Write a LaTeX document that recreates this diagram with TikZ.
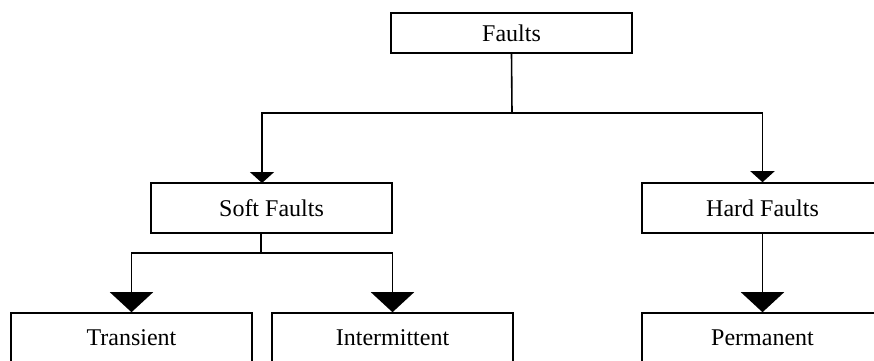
\documentclass[tikz,border=0pt]{standalone}
\usepackage{fontspec}
\setmainfont{Liberation Serif}
\usetikzlibrary{arrows.meta}
\begin{document}
\begin{tikzpicture}[x=1pt,y=-1pt,
  box/.style={draw,line width=1.6pt,minimum width=241pt,inner sep=0pt,font=\fontsize{24}{28}\selectfont},
  link/.style={line width=1.6pt},
  smallarr/.style={link,-{Triangle[width=24pt,length=11pt]}},
  bigarr/.style={link,-{Triangle[width=43pt,length=20pt]}}]
\useasboundingbox (0,0) rectangle (874,360);
\clip (0,0) rectangle (874,360);
\fill[white] (0,0) rectangle (874,360);
\node[box,minimum height=40pt] (f) at (511.5,33) {Faults};
\node[box,minimum height=50pt] (sf) at (271.5,208) {Soft Faults};
\node[box,minimum height=50pt] (hf) at (762.5,208) {Hard Faults};
\node[box,minimum height=50pt] (tr) at (131.5,338) {Transient};
\node[box,minimum height=50pt] (im) at (392.5,338) {Intermittent};
\node[box,minimum height=50pt] (pm) at (762.5,338) {Permanent};
\coordinate (j1) at (512,113);
\coordinate (j2) at (261,253);
\coordinate (sfin) at (262,183);
\coordinate (sfout) at (261,233);
\draw[link] (f.south) -- (j1);
\draw[smallarr] (j1) -| (sfin);
\draw[smallarr] (j1) -| (hf.north);
\draw[link] (sfout) -- (j2);
\draw[bigarr] (j2) -| (tr.north);
\draw[bigarr] (j2) -| (im.north);
\draw[bigarr] (hf.south) -- (pm.north);
\end{tikzpicture}
\end{document}
